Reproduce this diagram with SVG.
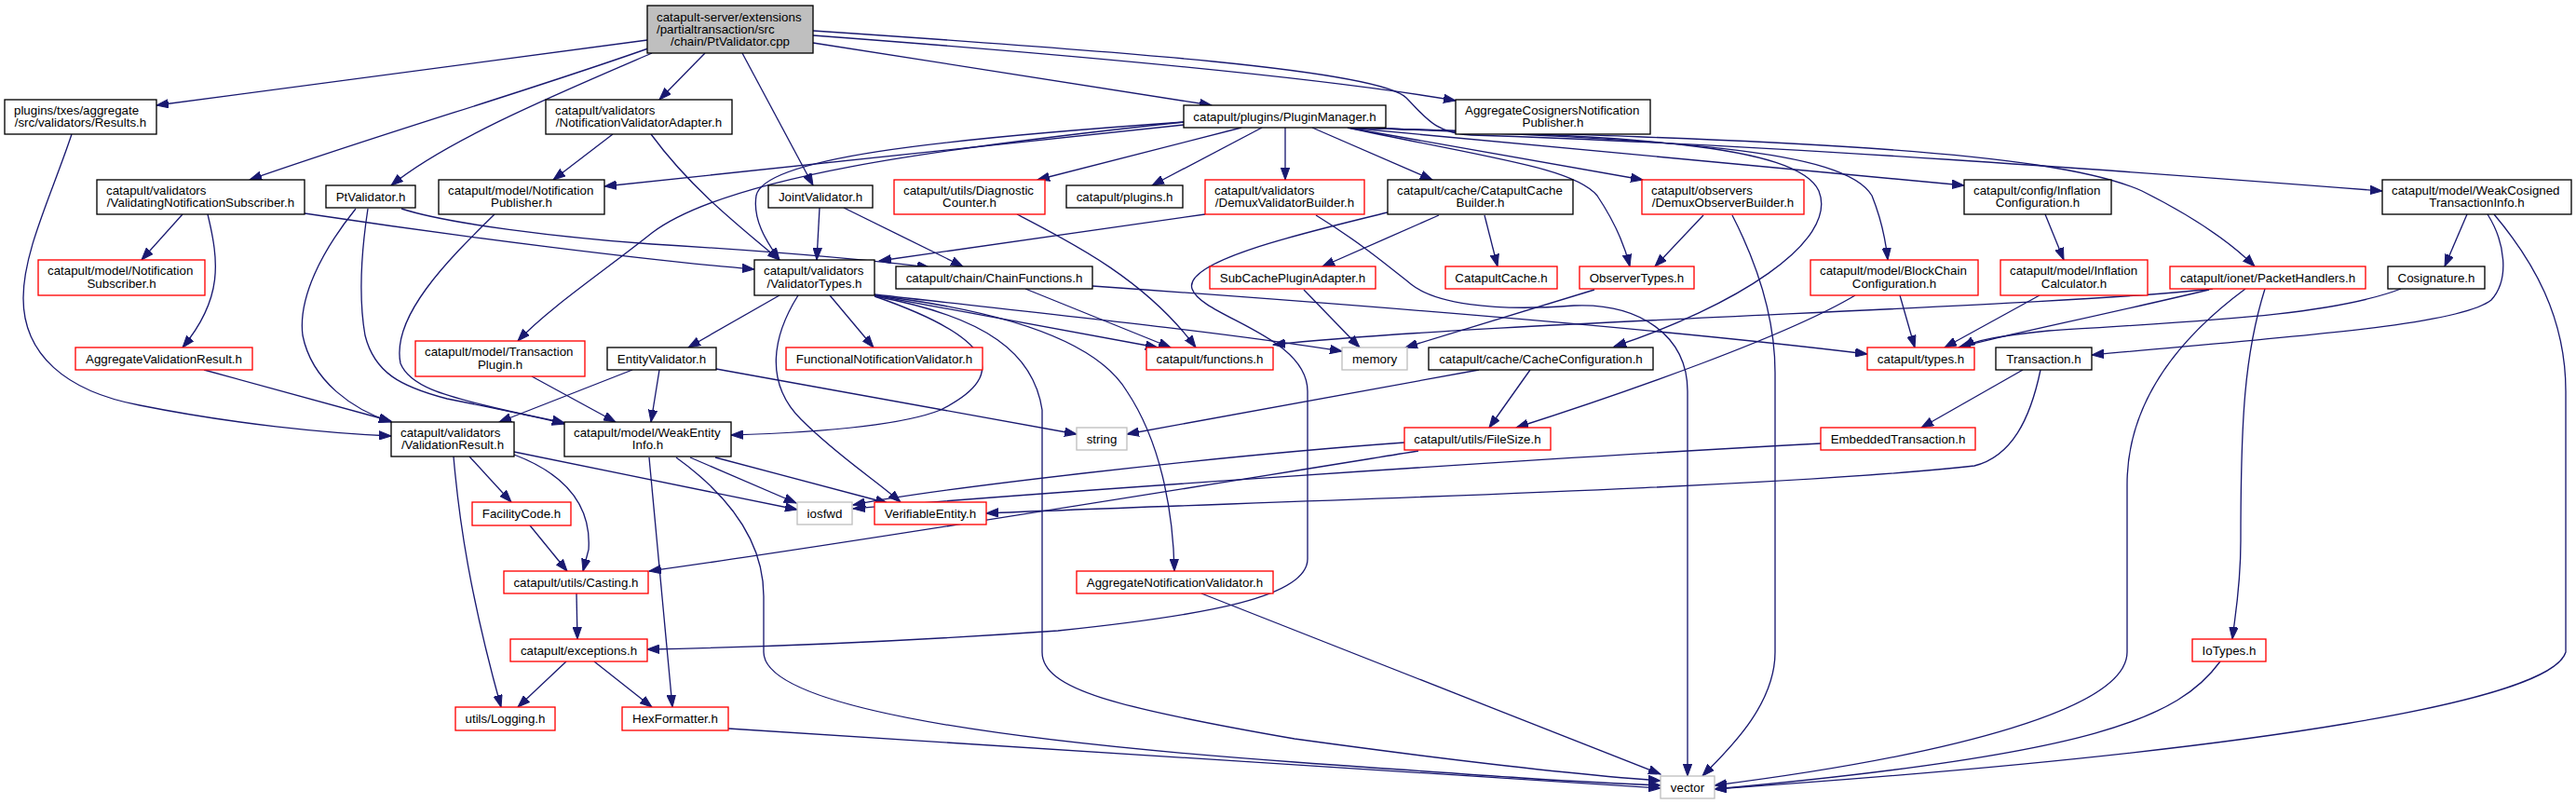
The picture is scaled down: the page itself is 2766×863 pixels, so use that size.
<svg xmlns="http://www.w3.org/2000/svg" width="2766" height="863" viewBox="0 0 2766 863">
<style>
rect{stroke-width:1.33}
.b{fill:#fff;stroke:#000}
.r{fill:#fff;stroke:#f00}
.g{fill:#fff;stroke:#bfbfbf}
.root{fill:#bfbfbf;stroke:#000}
text{font-family:"Liberation Sans",Arial,Helvetica,sans-serif;font-size:13.33px;fill:#000}
.m{text-anchor:middle}
#edges path{fill:none;stroke:#191970;stroke-width:1.33;marker-end:url(#a)}
</style>
<defs>
<marker id="a" markerUnits="userSpaceOnUse" markerWidth="14" markerHeight="10" refX="13" refY="5" orient="auto" viewBox="0 0 14 10">
<path d="M0,0.3 L13,5 L0,9.7 z" fill="#191970" stroke="#191970" stroke-width="1"/>
</marker>
</defs>
<rect width="2766" height="863" fill="#fff"/>
<g id="edges">
<path d="M695,43 L168,113"/>
<path d="M696,52 C560,100 420,140 268,193"/>
<path d="M700,57 C600,100 480,150 420,199"/>
<path d="M757,57 L708,107"/>
<path d="M797,57 L873,199"/>
<path d="M873,46 L1301,113"/>
<path d="M873,38 C1100,55 1400,80 1563,108"/>
<path d="M873,33 C1200,55 1480,75 1510,105 C1530,125 1540,143 1580,145 C1900,155 2300,185 2558,205"/>
<path d="M1271,134 L649,200"/>
<path d="M1271,131 C1000,150 820,170 812,210 C808,235 822,258 837,279"/>
<path d="M1271,131 C1000,160 780,190 700,250 C650,290 590,330 556,366"/>
<path d="M1333,137 L1114,193"/>
<path d="M1355,137 L1237,199"/>
<path d="M1380,137 L1380,193"/>
<path d="M1409,137 L1538,193"/>
<path d="M1447,137 C1600,170 1690,180 1715,210 C1735,240 1745,265 1750,286"/>
<path d="M1447,137 L1764,193"/>
<path d="M1460,137 C1800,150 1980,160 2010,210 C2020,235 2025,260 2027,279"/>
<path d="M1447,137 L2109,199"/>
<path d="M1450,137 C1750,145 1930,155 1953,205 C1975,260 1860,330 1733,372"/>
<path d="M1450,137 C1900,150 2200,160 2300,205 C2350,230 2390,255 2421,286"/>
<path d="M837,317 L739,373"/>
<path d="M891,317 L938,373"/>
<path d="M857,317 C830,360 820,410 860,450 C900,490 940,515 967,539"/>
<path d="M939,318 C1060,360 1090,400 1010,440 C960,460 850,465 785,467"/>
<path d="M939,317 L1243,373"/>
<path d="M939,316 C1150,340 1300,355 1441,377"/>
<path d="M939,318 C1060,340 1110,380 1119,440 L1119,700 C1119,740 1200,760 1390,793 C1550,815 1700,832 1783,838"/>
<path d="M939,317 C1090,335 1180,370 1210,420 C1250,480 1260,560 1261,613"/>
<path d="M1101,310 L1257,373"/>
<path d="M1173,307 C1500,330 1800,355 2005,380"/>
<path d="M880,223 L877,279"/>
<path d="M906,223 L1034,286"/>
<path d="M1092,230 C1150,260 1230,300 1284,373"/>
<path d="M1294,230 L944,280"/>
<path d="M1413,231 C1460,260 1490,285 1515,305 C1540,325 1600,335 1690,328 C1760,325 1812,360 1812,420 L1812,833"/>
<path d="M1545,231 L1420,286"/>
<path d="M1594,231 L1608,286"/>
<path d="M1490,228 C1400,250 1270,280 1280,310 C1290,340 1404,360 1404,420 L1404,600 C1404,640 1300,660 1136,677 C950,690 800,695 695,697"/>
<path d="M1829,231 L1777,286"/>
<path d="M1860,231 C1880,270 1906,330 1906,400 L1906,700 C1906,760 1850,810 1828,833"/>
<path d="M1712,311 L1509,373"/>
<path d="M1400,311 L1460,373"/>
<path d="M1643,397 L1599,459"/>
<path d="M1588,397 L1210,466"/>
<path d="M1992,317 C1920,360 1750,420 1628,459"/>
<path d="M2040,317 L2056,373"/>
<path d="M2196,230 L2216,279"/>
<path d="M2190,317 L2088,373"/>
<path d="M2376,310 C2200,330 1600,345 1367,370"/>
<path d="M2372,311 C2250,340 2150,360 2103,373"/>
<path d="M2432,310 C2410,380 2406,450 2406,580 C2406,630 2400,660 2397,686"/>
<path d="M2411,310 C2330,370 2284,440 2284,520 L2284,700 C2284,760 2100,810 1841,843"/>
<path d="M2578,310 C2500,340 2350,345 2200,355 C2150,360 2120,365 2108,373"/>
<path d="M2649,230 L2625,286"/>
<path d="M2671,230 C2690,260 2695,300 2675,322 C2640,350 2450,362 2246,381"/>
<path d="M2678,230 C2720,280 2755,340 2755,420 L2755,700 C2740,750 2450,805 1841,847"/>
<path d="M2384,710 C2340,770 2250,810 1841,847"/>
<path d="M2172,397 L2063,459"/>
<path d="M2191,397 C2180,450 2160,490 2120,500 C1900,525 1300,540 1059,551"/>
<path d="M1955,476 C1600,495 1100,530 916,546"/>
<path d="M1508,475 C1300,490 1000,525 916,542"/>
<path d="M1523,484 C1300,520 900,585 697,613"/>
<path d="M658,144 L594,193"/>
<path d="M699,144 C740,200 790,240 837,279"/>
<path d="M196,230 L152,279"/>
<path d="M223,230 C235,280 240,320 196,373"/>
<path d="M327,229 C500,255 700,280 810,289"/>
<path d="M77,144 C55,210 25,270 25,320 C25,380 70,420 150,435 C250,455 350,465 420,468"/>
<path d="M382,224 C345,270 320,320 325,360 C335,410 380,440 420,453"/>
<path d="M395,224 C388,270 385,320 392,360 C402,400 430,415 480,428 C540,440 580,448 606,455"/>
<path d="M431,224 C480,240 600,255 700,262 C800,268 900,275 998,287"/>
<path d="M531,230 C480,280 420,340 430,390 C440,415 480,425 520,435 C560,445 590,450 606,454"/>
<path d="M571,404 L661,453"/>
<path d="M219,397 L420,452"/>
<path d="M679,397 L536,453"/>
<path d="M708,397 L699,453"/>
<path d="M769,396 L1156,466"/>
<path d="M504,490 L549,539"/>
<path d="M552,485 L856,547"/>
<path d="M552,488 C610,510 635,545 632,590 L626,613"/>
<path d="M487,490 C493,560 505,640 538,759"/>
<path d="M569,564 L609,613"/>
<path d="M619,637 L620,686"/>
<path d="M608,710 L556,759"/>
<path d="M638,710 L700,759"/>
<path d="M782,782 L1783,846"/>
<path d="M741,491 L855,540"/>
<path d="M768,491 L953,540"/>
<path d="M726,491 C780,530 820,580 820,640 L820,700 C820,750 1000,790 1390,818 C1600,833 1700,840 1783,843"/>
<path d="M697,491 L722,759"/>
<path d="M1290,637 L1783,831"/>
</g>
<g id="node_root"><rect class="root" x="695" y="6" width="178" height="51"/><text x="705" y="22.8">catapult-server/extensions</text><text x="705" y="36.2">/partialtransaction/src</text><text class="m" x="784" y="48.8">/chain/PtValidator.cpp</text></g>
<g id="node_results"><rect class="b" x="5" y="107" width="163" height="37"/><text x="15" y="122.7">plugins/txes/aggregate</text><text class="m" x="86.5" y="136">/src/validators/Results.h</text></g>
<g id="node_nva"><rect class="b" x="586" y="107" width="200" height="37"/><text x="596" y="122.7">catapult/validators</text><text class="m" x="686" y="136">/NotificationValidatorAdapter.h</text></g>
<g id="node_pm"><rect class="b" x="1271" y="113" width="217" height="24"/><text class="m" x="1379.5" y="129.5">catapult/plugins/PluginManager.h</text></g>
<g id="node_acnp"><rect class="b" x="1563" y="107" width="209" height="37"/><text x="1573" y="122.7">AggregateCosignersNotification</text><text class="m" x="1667.5" y="136">Publisher.h</text></g>
<g id="node_vns"><rect class="b" x="104" y="193" width="223" height="37"/><text x="114" y="208.7">catapult/validators</text><text class="m" x="215.5" y="222">/ValidatingNotificationSubscriber.h</text></g>
<g id="node_ptv"><rect class="b" x="350" y="199" width="96" height="24"/><text class="m" x="398" y="215.5">PtValidator.h</text></g>
<g id="node_npub"><rect class="b" x="471" y="193" width="178" height="37"/><text x="481" y="208.7">catapult/model/Notification</text><text class="m" x="560" y="222">Publisher.h</text></g>
<g id="node_joint"><rect class="b" x="825" y="199" width="112" height="24"/><text class="m" x="881" y="215.5">JointValidator.h</text></g>
<g id="node_diag"><rect class="r" x="960" y="193" width="162" height="37"/><text x="970" y="208.7">catapult/utils/Diagnostic</text><text class="m" x="1041" y="222">Counter.h</text></g>
<g id="node_plugins"><rect class="b" x="1145" y="199" width="125" height="24"/><text class="m" x="1207.5" y="215.5">catapult/plugins.h</text></g>
<g id="node_dvb"><rect class="r" x="1294" y="193" width="171" height="37"/><text x="1304" y="208.7">catapult/validators</text><text class="m" x="1379.5" y="222">/DemuxValidatorBuilder.h</text></g>
<g id="node_ccb"><rect class="b" x="1490" y="193" width="199" height="37"/><text x="1500" y="208.7">catapult/cache/CatapultCache</text><text class="m" x="1589.5" y="222">Builder.h</text></g>
<g id="node_dob"><rect class="r" x="1763" y="193" width="174" height="37"/><text x="1773" y="208.7">catapult/observers</text><text class="m" x="1850" y="222">/DemuxObserverBuilder.h</text></g>
<g id="node_infconf"><rect class="b" x="2109" y="193" width="158" height="37"/><text x="2119" y="208.7">catapult/config/Inflation</text><text class="m" x="2188" y="222">Configuration.h</text></g>
<g id="node_wcti"><rect class="b" x="2558" y="193" width="203" height="37"/><text x="2568" y="208.7">catapult/model/WeakCosigned</text><text class="m" x="2659.5" y="222">TransactionInfo.h</text></g>
<g id="node_nsub"><rect class="r" x="41" y="279" width="179" height="38"/><text x="51" y="295">catapult/model/Notification</text><text class="m" x="130.5" y="308.5">Subscriber.h</text></g>
<g id="node_vt"><rect class="b" x="810" y="279" width="129" height="38"/><text x="820" y="295">catapult/validators</text><text class="m" x="874.5" y="308.5">/ValidatorTypes.h</text></g>
<g id="node_chainf"><rect class="b" x="962" y="286" width="211" height="24"/><text class="m" x="1067.5" y="302.5">catapult/chain/ChainFunctions.h</text></g>
<g id="node_scpa"><rect class="r" x="1299" y="286" width="178" height="24"/><text class="m" x="1388" y="302.5">SubCachePluginAdapter.h</text></g>
<g id="node_ccache"><rect class="r" x="1552" y="286" width="120" height="24"/><text class="m" x="1612" y="302.5">CatapultCache.h</text></g>
<g id="node_obst"><rect class="r" x="1696" y="286" width="123" height="24"/><text class="m" x="1757.5" y="302.5">ObserverTypes.h</text></g>
<g id="node_bcc"><rect class="r" x="1944" y="279" width="180" height="38"/><text x="1954" y="295">catapult/model/BlockChain</text><text class="m" x="2034" y="308.5">Configuration.h</text></g>
<g id="node_infcalc"><rect class="r" x="2148" y="279" width="158" height="38"/><text x="2158" y="295">catapult/model/Inflation</text><text class="m" x="2227" y="308.5">Calculator.h</text></g>
<g id="node_ph"><rect class="r" x="2330" y="286" width="210" height="24"/><text class="m" x="2435" y="302.5">catapult/ionet/PacketHandlers.h</text></g>
<g id="node_cosig"><rect class="b" x="2564" y="286" width="104" height="24"/><text class="m" x="2616" y="302.5">Cosignature.h</text></g>
<g id="node_tplug"><rect class="r" x="446" y="366" width="182" height="38"/><text x="456" y="382">catapult/model/Transaction</text><text class="m" x="537" y="395.5">Plugin.h</text></g>
<g id="node_avr"><rect class="r" x="81" y="373" width="190" height="24"/><text class="m" x="176" y="389.5">AggregateValidationResult.h</text></g>
<g id="node_entv"><rect class="b" x="652" y="373" width="117" height="24"/><text class="m" x="710.5" y="389.5">EntityValidator.h</text></g>
<g id="node_fnv"><rect class="r" x="844" y="373" width="211" height="24"/><text class="m" x="949.5" y="389.5">FunctionalNotificationValidator.h</text></g>
<g id="node_func"><rect class="r" x="1231" y="373" width="136" height="24"/><text class="m" x="1299" y="389.5">catapult/functions.h</text></g>
<g id="node_memory"><rect class="g" x="1441" y="373" width="70" height="24"/><text class="m" x="1476" y="389.5">memory</text></g>
<g id="node_cconf"><rect class="b" x="1534" y="373" width="241" height="24"/><text class="m" x="1654.5" y="389.5">catapult/cache/CacheConfiguration.h</text></g>
<g id="node_types"><rect class="r" x="2005" y="373" width="115" height="24"/><text class="m" x="2062.5" y="389.5">catapult/types.h</text></g>
<g id="node_trans"><rect class="b" x="2143" y="373" width="103" height="24"/><text class="m" x="2194.5" y="389.5">Transaction.h</text></g>
<g id="node_vres"><rect class="b" x="420" y="453" width="132" height="37"/><text x="430" y="468.7">catapult/validators</text><text class="m" x="486" y="482">/ValidationResult.h</text></g>
<g id="node_wei"><rect class="b" x="606" y="453" width="179" height="37"/><text x="616" y="468.7">catapult/model/WeakEntity</text><text class="m" x="695.5" y="482">Info.h</text></g>
<g id="node_string"><rect class="g" x="1156" y="459" width="54" height="24"/><text class="m" x="1183" y="475.5">string</text></g>
<g id="node_fsize"><rect class="r" x="1508" y="459" width="157" height="24"/><text class="m" x="1586.5" y="475.5">catapult/utils/FileSize.h</text></g>
<g id="node_embt"><rect class="r" x="1955" y="459" width="166" height="24"/><text class="m" x="2038" y="475.5">EmbeddedTransaction.h</text></g>
<g id="node_facil"><rect class="r" x="507" y="539" width="106" height="25"/><text class="m" x="560" y="556">FacilityCode.h</text></g>
<g id="node_iosfwd"><rect class="g" x="856" y="539" width="59" height="24"/><text class="m" x="885.5" y="555.5">iosfwd</text></g>
<g id="node_verent"><rect class="r" x="939" y="539" width="120" height="24"/><text class="m" x="999" y="555.5">VerifiableEntity.h</text></g>
<g id="node_casting"><rect class="r" x="541" y="613" width="155" height="24"/><text class="m" x="618.5" y="629.5">catapult/utils/Casting.h</text></g>
<g id="node_anv"><rect class="r" x="1156" y="613" width="211" height="24"/><text class="m" x="1261.5" y="629.5">AggregateNotificationValidator.h</text></g>
<g id="node_exc"><rect class="r" x="548" y="686" width="147" height="24"/><text class="m" x="621.5" y="702.5">catapult/exceptions.h</text></g>
<g id="node_iot"><rect class="r" x="2354" y="686" width="79" height="24"/><text class="m" x="2393.5" y="702.5">IoTypes.h</text></g>
<g id="node_logging"><rect class="r" x="489" y="759" width="107" height="25"/><text class="m" x="542.5" y="776">utils/Logging.h</text></g>
<g id="node_hexf"><rect class="r" x="668" y="759" width="114" height="25"/><text class="m" x="725" y="776">HexFormatter.h</text></g>
<g id="node_vector"><rect class="g" x="1783" y="833" width="58" height="24"/><text class="m" x="1812" y="849.5">vector</text></g>
</svg>
